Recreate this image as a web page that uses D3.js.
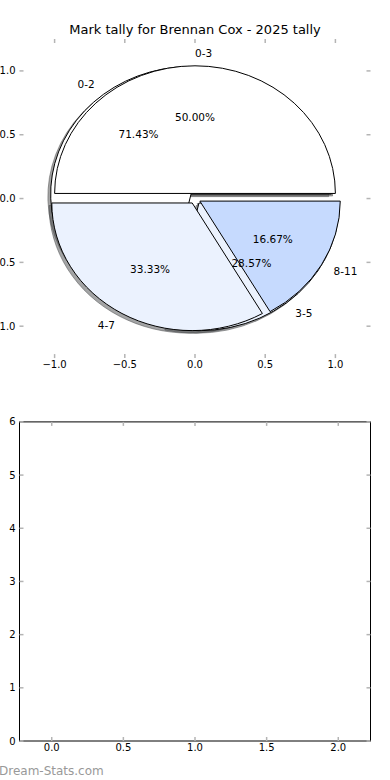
<!DOCTYPE html>
<html>
<head>
<meta charset="utf-8">
<script src="https://cdn.jsdelivr.net/npm/d3@7"></script>
<style>
  body { margin: 0; background: #fff; }
  svg { display: block; }
  text { font-family: "DejaVu Sans", sans-serif; }
</style>
</head>
<body>
<svg id="chart" width="390" height="780"></svg>
<script>
// Chart data
const titleText = "Mark tally for Brennan Cox - 2025 tally";
const labelsA = ["0-2", "3-5"];          // first pie (drawn underneath)
const valuesA = [5, 2];
const labelsB = ["0-3", "4-7", "8-11"];  // second pie (drawn on top)
const valuesB = [3, 2, 1];
const sliceColors = ["#ffffff", "#ebf2fe", "#c6dafe"];
const pieTicks = [-1, -0.5, 0, 0.5, 1];
const emptyXTicks = [0, 0.5, 1, 1.5, 2];
const emptyYTicks = [0, 1, 2, 3, 4, 5, 6];

const svg = d3.select("#chart");
const left = 19.5, right = 370.5;
const top1 = 39, bot1 = 358.1;   // pie axes
const top2 = 421.9, bot2 = 741;  // empty axes below

const x1 = d3.scaleLinear().domain([-1.25, 1.25]).range([left, right]);
const y1 = d3.scaleLinear().domain([-1.25, 1.25]).range([bot1, top1]);
const x2 = d3.scaleLinear().domain([-0.225, 2.225]).range([left, right]);
const y2 = d3.scaleLinear().domain([0, 6]).range([bot2, top2]);

const fmt1 = d3.format(".1f");
const tickColor = "#b4b4b4";

// pie layout, counter-clockwise from 3 o'clock like matplotlib
function pieSlices(values, labels, explode) {
  const total = d3.sum(values);
  return d3.pie().sort(null)
    .startAngle(Math.PI / 2)
    .endAngle(Math.PI / 2 - 2 * Math.PI)(values)
    .map((d, i) => {
      const th = Math.PI / 2 - (d.startAngle + d.endAngle) / 2;
      return Object.assign({}, d, {
        label: labels[i],
        color: sliceColors[i],
        th: th,
        cx: explode * Math.cos(th),
        cy: explode * Math.sin(th),
        pct: d.value / total * 100
      });
    });
}

const slicesA = pieSlices(valuesA, labelsA, 0.045);
const slicesB = pieSlices(valuesB, labelsB, 0.04);

const arc = d3.arc().innerRadius(0).outerRadius(1);
const kx = x1(1) - x1(0), ky = y1(0) - y1(1);

const pieLayer = svg.append("g");

// shadows first
[slicesA, slicesB].forEach(slices => {
  slices.forEach(d => {
    const rgb = d3.rgb(d.color);
    const sc = `rgba(${rgb.r * 0.3},${rgb.g * 0.3},${rgb.b * 0.3},0.5)`;
    pieLayer.append("path")
      .attr("d", arc(d))
      .attr("transform", `translate(${x1(d.cx - 0.02)},${y1(d.cy - 0.02)}) scale(${kx},${ky})`)
      .attr("fill", sc)
      .attr("stroke", sc)
      .attr("stroke-width", 1)
      .attr("vector-effect", "non-scaling-stroke");
  });
});

// wedges
[slicesA, slicesB].forEach(slices => {
  slices.forEach(d => {
    pieLayer.append("path")
      .attr("d", arc(d))
      .attr("transform", `translate(${x1(d.cx)},${y1(d.cy)}) scale(${kx},${ky})`)
      .attr("fill", d.color)
      .attr("stroke", "#000")
      .attr("stroke-width", 1)
      .attr("stroke-linejoin", "miter")
      .attr("vector-effect", "non-scaling-stroke");
  });
});

// labels and percentages
[slicesA, slicesB].forEach(slices => {
  slices.forEach(d => {
    const xt = d.cx + 1.1 * Math.cos(d.th);
    const yt = d.cy + 1.1 * Math.sin(d.th);
    pieLayer.append("text")
      .attr("x", x1(xt))
      .attr("y", y1(yt))
      .attr("text-anchor", xt > 0 ? "start" : "end")
      .attr("dominant-baseline", "central")
      .attr("font-size", "10.5px")
      .text(d.label);
    pieLayer.append("text")
      .attr("x", x1(d.cx + 0.6 * Math.cos(d.th)))
      .attr("y", y1(d.cy + 0.6 * Math.sin(d.th)))
      .attr("text-anchor", "middle")
      .attr("dominant-baseline", "central")
      .attr("font-size", "10.5px")
      .text(d.pct.toFixed(2) + "%");
  });
});

// ticks (inward, both sides)
function drawTicks(xs, ys, xt, yt, top, bot, xfmt, yfmt) {
  const g = svg.append("g");
  xt.forEach(v => {
    g.append("line").attr("x1", xs(v)).attr("x2", xs(v)).attr("y1", bot).attr("y2", bot - 4)
      .attr("stroke", tickColor).attr("stroke-width", 1.5);
    g.append("line").attr("x1", xs(v)).attr("x2", xs(v)).attr("y1", top).attr("y2", top + 4)
      .attr("stroke", tickColor).attr("stroke-width", 1.5);
    g.append("text").attr("x", xs(v)).attr("y", bot + 6.5)
      .attr("text-anchor", "middle").attr("dominant-baseline", "central")
      .attr("font-size", "10px").text(xfmt(v));
  });
  yt.forEach(v => {
    g.append("line").attr("x1", left).attr("x2", left + 4).attr("y1", ys(v)).attr("y2", ys(v))
      .attr("stroke", tickColor).attr("stroke-width", 1.5);
    g.append("line").attr("x1", right).attr("x2", right - 4).attr("y1", ys(v)).attr("y2", ys(v))
      .attr("stroke", tickColor).attr("stroke-width", 1.5);
    g.append("text").attr("x", left - 4).attr("y", ys(v))
      .attr("text-anchor", "end").attr("dominant-baseline", "central")
      .attr("font-size", "10px").text(yfmt(v));
  });
}

drawTicks(x1, y1, pieTicks, pieTicks, top1, bot1, fmt1, fmt1);

// empty lower axes with frame
svg.append("rect")
  .attr("x", left).attr("y", top2)
  .attr("width", right - left).attr("height", bot2 - top2)
  .attr("fill", "none").attr("stroke", "#000").attr("stroke-width", 1);
drawTicks(x2, y2, emptyXTicks, emptyYTicks, top2, bot2, fmt1, d3.format("d"));

// title
svg.append("text")
  .attr("x", (left + right) / 2)
  .attr("y", 33.5)
  .attr("text-anchor", "middle")
  .attr("font-size", "13px")
  .text(titleText);

// watermark
svg.append("text")
  .attr("x", -1)
  .attr("y", 775)
  .attr("font-size", "12px")
  .attr("fill", "#999")
  .text("Dream-Stats.com");
</script>
</body>
</html>
